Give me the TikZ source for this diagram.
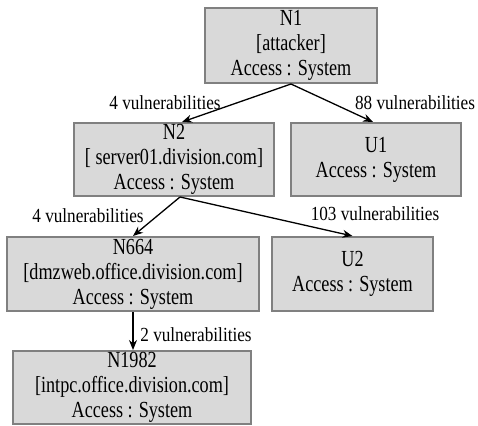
\documentclass[tikz,border=0pt]{standalone}
\usepackage{fontspec}
\usetikzlibrary{arrows.meta}
\newfontfamily\diagfont{Liberation Serif}[FakeStretch=0.79]
\newfontfamily\labelfont{Liberation Serif}[FakeStretch=0.86]
\begin{document}
\begin{tikzpicture}[
        x=1pt,
        y=-1pt,
        mybox/.style={
            rectangle,
            fill=boxfill,
            draw=boxline,
            line width=2pt,
            inner sep=0pt,
            align=center,
            font=\diagfont\fontsize{23}{25}\selectfont
          },
        mylabel/.style={
            inner sep=0pt,
            font=\labelfont\fontsize{20}{20}\selectfont
          },
        myarrow/.style={
            -{Stealth[length=10pt,width=8pt]},
            line width=1.3pt
          }]
        % Define colors
        \definecolor{boxfill}{RGB}{217,217,217} % light gray
        \definecolor{boxline}{RGB}{128,128,128} % gray

        % Fix the frame
        \useasboundingbox (0,0) rectangle (478,425);

        % Draw boxes
        \node[mybox, minimum width=172, minimum height=75] (n1) at (291,45.5)
            {N1\\ {[}attacker]\\ Access : System};
        \node[mybox, minimum width=200, minimum height=73] (n2) at (174,159.5)
            {N2\\ {[} server01.division.com]\\ Access : System};
        \node[mybox, minimum width=170, minimum height=73] (u1) at (376,159.5)
            {U1\\ Access : System};
        \node[mybox, minimum width=252, minimum height=74] (n664) at (133,274)
            {N664\\ {[}dmzweb.office.division.com]\\ Access : System};
        \node[mybox, minimum width=161, minimum height=74] (u2) at (352.5,274)
            {U2\\ Access : System};
        \node[mybox, minimum width=238, minimum height=73] (n1982) at (132,387.5)
            {N1982\\ {[}intpc.office.division.com]\\ Access : System};

        % Draw arrows
        \draw[myarrow] (n1.south) -- ([xshift=8pt]n2.north);
        \draw[myarrow] (n1.south) -- ([xshift=-3pt]u1.north);
        \draw[myarrow] ([xshift=6pt]n2.south) -- (n664.north);
        \draw[myarrow] ([xshift=6pt]n2.south) -- (u2.north);
        \draw[myarrow] (n664.south) -- ([xshift=1pt]n1982.north);

        % Label arrows
        \node[mylabel] (l1) at (165,103) {4 vulnerabilities};
        \node[mylabel] (l2) at (415,103) {88 vulnerabilities};
        \node[mylabel] (l3) at (88,216) {4 vulnerabilities};
        \node[mylabel] (l4) at (375,214) {103 vulnerabilities};
        \node[mylabel] (l5) at (196,335) {2 vulnerabilities};
    \end{tikzpicture}
\end{document}
